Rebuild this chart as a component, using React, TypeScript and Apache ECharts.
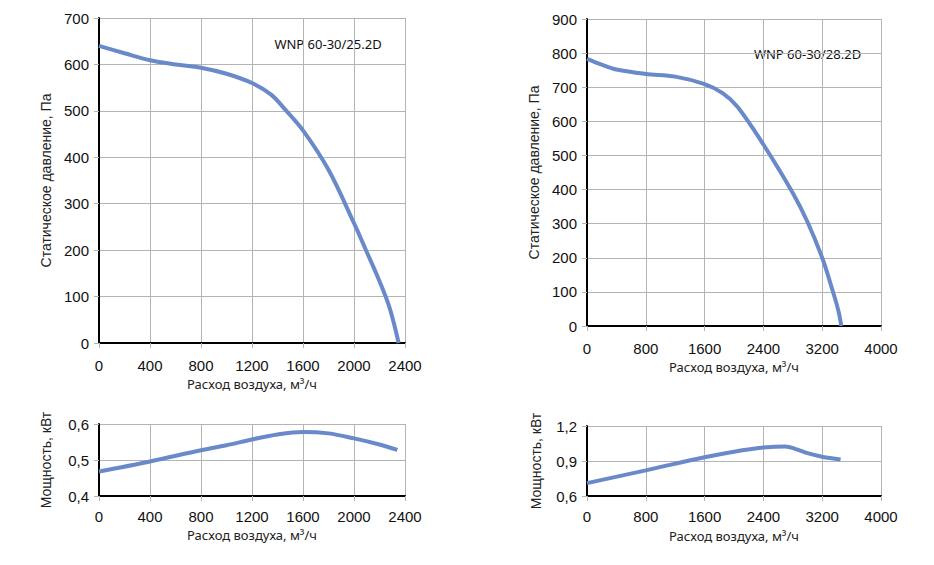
import React, { useEffect, useRef } from "react";
import * as echarts from "echarts";

// Top-left: WNP 60-30/25.2D pressure curve [airflow m³/h, Pa]
const pressureA: [number, number][] = [
  [0, 640], [200, 624], [400, 609], [600, 600], [800, 593], [1000, 580],
  [1200, 560], [1350, 535], [1450, 506], [1600, 458], [1800, 373],
  [2000, 258], [2100, 196], [2200, 133], [2280, 75], [2350, 0],
];
// Top-right: WNP 60-30/28.2D pressure curve
const pressureB: [number, number][] = [
  [0, 783], [200, 766], [400, 752], [800, 739], [1200, 731], [1600, 709],
  [1850, 682], [2050, 642], [2400, 532], [2800, 390], [3000, 305],
  [3200, 200], [3330, 112], [3420, 45], [3460, 0],
];
// Bottom-left: power, kW
const powerA: [number, number][] = [
  [0, 0.468], [400, 0.496], [800, 0.527], [1000, 0.541], [1200, 0.557],
  [1400, 0.571], [1600, 0.578], [1800, 0.574], [2000, 0.56], [2200, 0.543],
  [2340, 0.528],
];
// Bottom-right: power, kW
const powerB: [number, number][] = [
  [0, 0.71], [800, 0.82], [1600, 0.932], [2000, 0.98], [2400, 1.015],
  [2700, 1.025], [2850, 1.0], [3000, 0.968], [3200, 0.937], [3450, 0.913],
];

const labelA = "WNP 60-30/25.2D";
const labelB = "WNP 60-30/28.2D";
const xTitle = "Расход воздуха, м³/ч";
const yTitlePressure = "Статическое давление, Па";
const yTitlePower = "Мощность, кВт";

const LINE = "#6a89c8";
const GRIDC = "#b4b4b4";
const TICKFONT = "'Liberation Sans', Arial, sans-serif";
const TITLEFONT = "'Noto Sans', 'Open Sans', sans-serif";

function xAxis(gridIndex: number, max: number, interval: number, nameGap: number, margin: number) {
  return {
    type: "value",
    gridIndex,
    min: 0,
    max,
    interval,
    name: xTitle,
    nameLocation: "middle",
    nameGap,
    nameTextStyle: { fontFamily: TITLEFONT, fontSize: 13, color: "#222" },
    axisLine: { show: true, onZero: false, lineStyle: { color: "#000", width: 2 } },
    axisTick: { show: true, length: 5, lineStyle: { color: GRIDC } },
    axisLabel: {
      margin,
      fontFamily: TICKFONT,
      fontSize: 15,
      color: "#111",
      formatter: (v: number) => String(v),
    },
    splitLine: { show: true, lineStyle: { color: GRIDC, width: 1 } },
  };
}

function yAxis(
  gridIndex: number, min: number, max: number, interval: number, name: string,
  nameGap: number, fmt?: (v: number) => string
) {
  return {
    type: "value",
    gridIndex,
    min,
    max,
    interval,
    name,
    nameLocation: "middle",
    nameGap,
    nameTextStyle: { fontFamily: TICKFONT, fontSize: 14, color: "#222" },
    axisLine: { show: true, lineStyle: { color: "#000", width: 2 } },
    axisTick: { show: true, length: 5, lineStyle: { color: GRIDC } },
    axisLabel: {
      margin: 10,
      fontFamily: TICKFONT,
      fontSize: 15,
      color: "#111",
      formatter: fmt || ((v: number) => String(v)),
    },
    splitLine: { show: true, lineStyle: { color: GRIDC, width: 1 } },
  };
}

const comma = (v: number) => v.toFixed(1).replace(".", ",");

function series(i: number, data: [number, number][]) {
  return {
    type: "line",
    xAxisIndex: i,
    yAxisIndex: i,
    data,
    smooth: 0.35,
    showSymbol: false,
    symbol: "none",
    lineStyle: { color: LINE, width: 4 },
    z: 5,
  };
}

function labelBox(x: number, y: number, w: number, h: number, text: string) {
  return {
    type: "group",
    z: 10,
    children: [
      { type: "rect", shape: { x, y, width: w, height: h }, style: { fill: "#fff" } },
      {
        type: "text",
        x: x + w / 2,
        y: y + h / 2,
        style: {
          text,
          fontFamily: TITLEFONT,
          fontSize: 13,
          fill: "#111",
          align: "center",
          verticalAlign: "middle",
        },
      },
    ],
  };
}

export default function App() {
  const ref = useRef<HTMLDivElement>(null);
  useEffect(() => {
    if (!ref.current) return;
    const chart = echarts.init(ref.current, undefined, { renderer: "svg" });
    chart.setOption({
      animation: false,
      backgroundColor: "#fff",
      grid: [
        { left: 99, top: 18, width: 306, height: 325 },
        { left: 587, top: 19, width: 294, height: 307 },
        { left: 99, top: 424, width: 306, height: 72 },
        { left: 587, top: 426, width: 294, height: 70 },
      ],
      xAxis: [
        xAxis(0, 2400, 400, 33, 15),
        xAxis(1, 4000, 800, 33, 15),
        xAxis(2, 2400, 400, 32, 13),
        xAxis(3, 4000, 800, 33, 13),
      ],
      yAxis: [
        yAxis(0, 0, 700, 100, yTitlePressure, 46),
        yAxis(1, 0, 900, 100, yTitlePressure, 46),
        yAxis(2, 0.4, 0.6, 0.1, yTitlePower, 46, comma),
        yAxis(3, 0.6, 1.2, 0.3, yTitlePower, 44, comma),
      ],
      series: [
        series(0, pressureA),
        series(1, pressureB),
        series(2, powerA),
        series(3, powerB),
      ],
      graphic: [
        labelBox(263, 23, 130, 41, labelA),
        labelBox(743, 38, 129, 32, labelB),
      ],
    });
    return () => chart.dispose();
  }, []);
  return (
    <div
      ref={ref}
      style={{ position: "absolute", left: 0, top: 0, width: 934, height: 565 }}
    />
  );
}
